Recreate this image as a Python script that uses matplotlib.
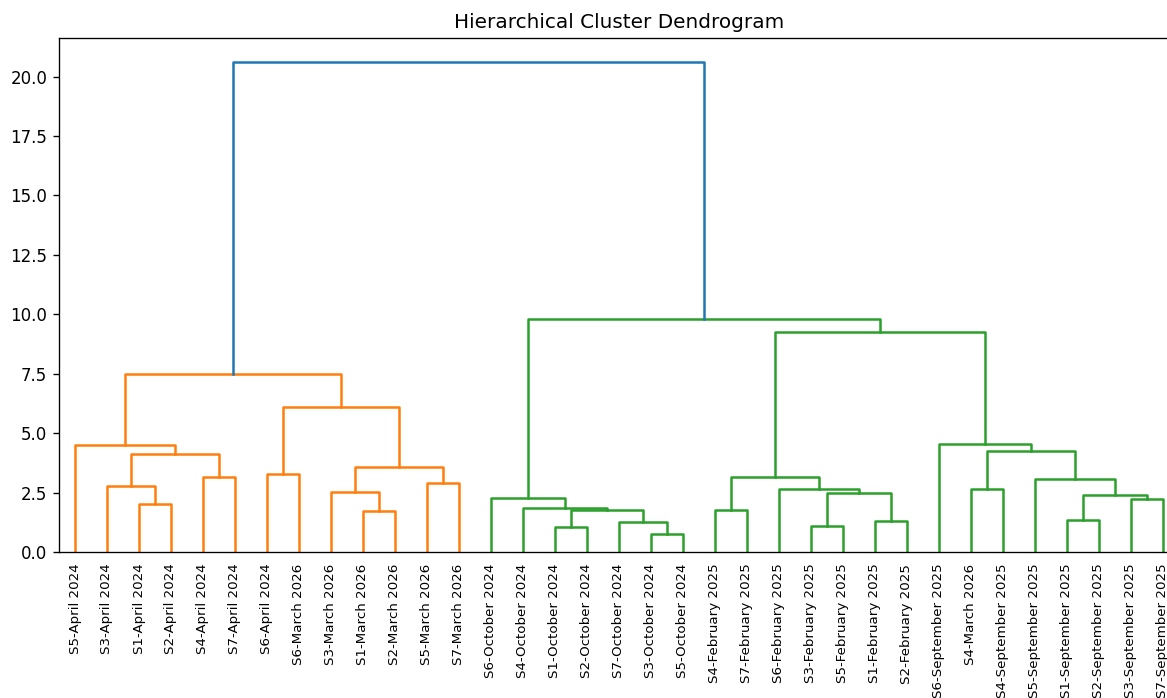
import matplotlib
matplotlib.use("Agg")
import matplotlib.pyplot as plt

# Leaves in display order, left to right
leaf_labels = [
    "S5-April 2024", "S3-April 2024", "S1-April 2024", "S2-April 2024",
    "S4-April 2024", "S7-April 2024", "S6-April 2024", "S6-March 2026",
    "S3-March 2026", "S1-March 2026", "S2-March 2026", "S5-March 2026",
    "S7-March 2026",
    "S6-October 2024", "S4-October 2024", "S1-October 2024", "S2-October 2024",
    "S7-October 2024", "S3-October 2024", "S5-October 2024",
    "S4-February 2025", "S7-February 2025", "S6-February 2025",
    "S3-February 2025", "S5-February 2025", "S1-February 2025",
    "S2-February 2025",
    "S6-September 2025", "S4-March 2026", "S4-September 2025",
    "S5-September 2025", "S1-September 2025", "S2-September 2025",
    "S3-September 2025", "S7-September 2025",
]

# Merges like a linkage matrix: node ids 0..34 are leaves, new nodes get 35, 36, ...
merge_left = [2, 1, 4, 36, 0, 6, 9, 8, 11, 42, 40, 39,
              15, 18, 17, 47, 14, 13,
              20, 23, 25, 54, 22, 53,
              28, 31, 33, 60, 30, 59, 27, 58, 52, 46]
merge_right = [3, 35, 5, 37, 38, 7, 10, 41, 12, 43, 44, 45,
               16, 19, 48, 49, 50, 51,
               21, 24, 26, 55, 56, 57,
               29, 32, 34, 61, 62, 63, 64, 65, 66, 67]
merge_height = [2.02, 2.77, 3.15, 4.13, 4.50, 3.29, 1.71, 2.54, 2.89, 3.56, 6.11, 7.47,
                1.05, 0.74, 1.26, 1.75, 1.85, 2.28,
                1.78, 1.11, 1.30, 2.48, 2.63, 3.14,
                2.63, 1.34, 2.23, 2.39, 3.08, 4.23, 4.54, 9.24, 9.79, 20.59]

n_leaves = len(leaf_labels)
threshold = 0.7 * max(merge_height)
cluster_palette = ["#ff7f0e", "#2ca02c", "#d62728", "#9467bd"]
above_color = "#1f77b4"

# x and height of every node (leaves sit at 5, 15, 25, ... like scipy)
node_x = [10 * i + 5 for i in range(n_leaves)]
node_h = [0.0] * n_leaves
for l, r, h in zip(merge_left, merge_right, merge_height):
    node_x.append((node_x[l] + node_x[r]) / 2)
    node_h.append(h)

# colour each link: subtrees below the threshold share one colour
children = {n_leaves + k: (l, r) for k, (l, r) in enumerate(zip(merge_left, merge_right))}
link_color = {}
palette_idx = [0]


def paint(node, color):
    if node < n_leaves:
        return
    if color is None and node_h[node] < threshold:
        color = cluster_palette[palette_idx[0] % len(cluster_palette)]
        palette_idx[0] += 1
    link_color[node] = color if color is not None else above_color
    for child in children[node]:
        paint(child, color)


root = len(node_x) - 1
paint(root, None)

dpi = 120
fig = plt.figure(figsize=(1167 / dpi, 698 / dpi), dpi=dpi)
ax = fig.add_axes([59 / 1167, 146 / 698, 1120 / 1167, 514 / 698])

for node, (l, r) in children.items():
    h = node_h[node]
    ax.plot([node_x[l], node_x[l], node_x[r], node_x[r]],
            [node_h[l], h, h, node_h[r]],
            color=link_color[node], linewidth=1.5)

ax.set_xlim(0, 10 * n_leaves)
ax.set_ylim(0, max(merge_height) * 1.05)
ax.set_xticks(node_x[:n_leaves])
ax.set_xticklabels(leaf_labels, rotation=90, fontsize=8)
for line in ax.get_xticklines():
    line.set_visible(False)
ax.set_title("Hierarchical Cluster Dendrogram")

fig.savefig("out.png", dpi=dpi)
